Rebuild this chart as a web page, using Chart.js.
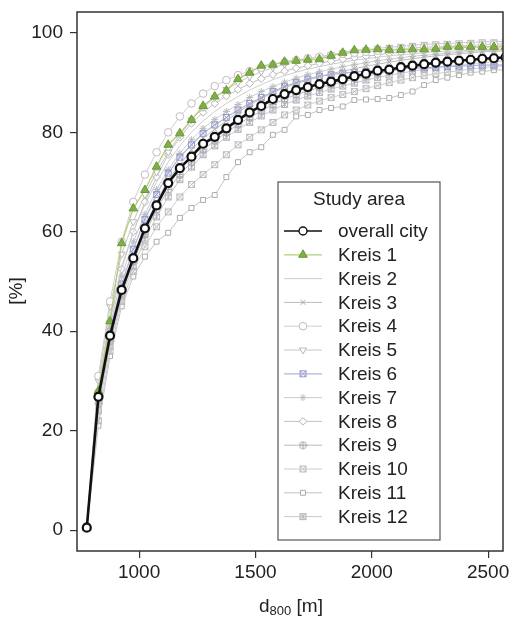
<!DOCTYPE html>
<html>
<head>
<meta charset="utf-8">
<script src="https://cdn.jsdelivr.net/npm/chart.js@4.4.1/dist/chart.umd.min.js"></script>
<style>
  body { margin: 0; background: #fff; }
  #wrap { width: 511px; height: 619px; }
</style>
</head>
<body>
<div id="wrap"><canvas id="chart" width="511" height="619"></canvas></div>
<script>
// d800 distances [m]
const distances = [775, 825, 875, 925, 975, 1025, 1075, 1125, 1175, 1225, 1275, 1325, 1375, 1425, 1475, 1525,
  1575, 1625, 1675, 1725, 1775, 1825, 1875, 1925, 1975, 2025, 2075, 2125, 2175, 2225, 2275, 2325, 2375,
  2425, 2475, 2525, 2575];

const overallCity = [0.5, 26.8, 39.1, 48.3, 54.7, 60.7, 65.3, 69.8, 72.8, 75.1, 77.7, 79.1, 80.8, 82.5, 84.0, 85.3,
  86.7, 87.7, 88.5, 89.1, 89.7, 90.2, 90.7, 91.3, 91.8, 92.4, 92.6, 93.1, 93.4, 93.7, 94.0, 94.2, 94.4,
  94.6, 94.8, 94.9, 95.1];
const kreis1 = [0.5, 28, 42, 57.7, 64.7, 68.4, 73.1, 77.5, 79.8, 82.5, 85.3, 87.2, 88.4, 90.7, 92.0, 93.4,
  93.6, 94.2, 94.4, 94.6, 94.7, 95.4, 96.0, 96.5, 96.6, 96.7, 96.6, 96.6, 96.7, 96.7, 96.8, 97.2, 97.2,
  97.2, 97.2, 97.2, 97.2];
const kreis2 = [0.7, 29, 43, 53, 60, 65.5, 70, 74, 77.3, 80, 82.3, 84.2, 85.8, 87.2, 88.5, 89.6,
  90.6, 91.4, 92.1, 92.7, 93.2, 93.7, 94.1, 94.5, 94.8, 95.1, 95.4, 95.6, 95.8, 96, 96.2, 96.3, 96.4,
  96.5, 96.6, 96.7, 96.8];
const kreis3 = [0.5, 25, 38.5, 48, 55, 61, 66, 70.5, 73.5, 76.5, 78.8, 80.6, 82.3, 84, 85.5, 86.8,
  88, 89, 89.8, 90.5, 91.2, 91.8, 92.3, 92.8, 93.3, 93.7, 94.1, 94.5, 94.8, 95.1, 95.4, 95.6, 95.8,
  96, 96.2, 96.3, 96.4];
const kreis4 = [0.8, 31, 46, 58, 66, 71.5, 76, 80, 83.2, 85.8, 87.8, 89.3, 90.5, 91.5, 92.3, 93,
  93.6, 94.1, 94.5, 94.9, 95.2, 95.5, 95.8, 96, 96.2, 96.4, 96.6, 96.8, 97, 97.1, 97.2, 97.3, 97.4,
  97.5, 97.6, 97.7, 97.8];
const kreis5 = [0.7, 30, 45, 55.5, 62, 67.5, 72, 76, 79.5, 82.5, 85, 87, 88.6, 90, 91.2, 92.2,
  93, 93.7, 94.3, 94.8, 95.2, 95.6, 96, 96.3, 96.6, 96.9, 97.1, 97.3, 97.5, 97.7, 97.8, 97.9, 98,
  98.1, 98.2, 98.2, 98.3];
const kreis6 = [0.6, 27, 40, 49.5, 56.5, 62.5, 67.5, 71.8, 75, 77.5, 79.8, 81.5, 83, 84.5, 85.8, 87,
  88.2, 89.2, 90, 90.7, 91.3, 91.6, 91.9, 92.1, 92.3, 92.5, 92.6, 92.8, 92.9, 93, 93.1, 93.2, 93.3,
  93.4, 93.5, 93.5, 93.6];
const kreis7 = [0.6, 27.5, 41, 51, 58, 63.5, 68.5, 72.5, 75.8, 78.5, 80.8, 82.6, 84.2, 85.6, 87, 88.2,
  89.2, 90.1, 90.9, 91.6, 92.2, 92.7, 93.2, 93.6, 94, 94.4, 94.7, 95, 95.3, 95.5, 95.7, 95.9, 96.1,
  96.3, 96.4, 96.5, 96.6];
const kreis8 = [0.6, 28, 42, 52.5, 60, 66, 71, 75.5, 79, 81.8, 84, 85.8, 87.3, 88.6, 89.8, 90.8,
  91.6, 92.3, 92.9, 93.4, 93.9, 94.3, 94.7, 95, 95.3, 95.6, 95.9, 96.1, 96.3, 96.5, 96.7, 96.9, 97,
  97.1, 97.2, 97.3, 97.4];
const kreis9 = [0.6, 25.5, 38, 47.5, 54, 59.5, 64.5, 68.5, 71.5, 74, 76.5, 78.3, 80, 81.6, 83, 84.3,
  85.6, 86.7, 87.6, 88.3, 89, 89.6, 90.2, 90.8, 91.3, 91.8, 92.3, 92.7, 93.1, 93.5, 93.8, 94.1, 94.4,
  94.6, 94.8, 95, 95.2];
const kreis10 = [0.5, 22, 36, 46, 52, 57, 61, 64, 67, 69.5, 71.5, 73.5, 75.5, 77.5, 79, 80.5,
  82, 83.5, 84.5, 85.5, 86.3, 87, 87.6, 88.2, 88.8, 89.4, 90, 90.5, 91, 91.4, 91.8, 92.1, 92.4,
  92.7, 93, 93.2, 93.4];
const kreis11 = [0.4, 21, 35, 45, 51, 55, 58, 59.8, 62.8, 64.8, 66.4, 67.4, 71, 74, 76, 77,
  79.5, 80.5, 83.2, 83.5, 84.5, 84.9, 85.2, 86.5, 86.6, 86.7, 86.9, 87.5, 88.2, 89.5, 90.5, 91, 91.5,
  92, 92.2, 92.5, 92.6];
const kreis12 = [0.5, 24, 37, 47, 53, 58.5, 63, 67, 70.5, 73, 75.5, 77.3, 79, 80.6, 82, 83.3,
  84.5, 85.6, 86.5, 87.3, 88, 88.7, 89.3, 89.9, 90.5, 91, 91.5, 91.9, 92.3, 92.7, 93, 93.3, 93.6,
  93.8, 94, 94.2, 94.4];

const seriesNames = ['overall city', 'Kreis 1', 'Kreis 2', 'Kreis 3', 'Kreis 4', 'Kreis 5', 'Kreis 6',
  'Kreis 7', 'Kreis 8', 'Kreis 9', 'Kreis 10', 'Kreis 11', 'Kreis 12'];
const seriesValues = [overallCity, kreis1, kreis2, kreis3, kreis4, kreis5, kreis6,
  kreis7, kreis8, kreis9, kreis10, kreis11, kreis12];

const yTicks = [0, 20, 40, 60, 80, 100];
const xTicks = [1000, 1500, 2000, 2500];

const FONT = "'Liberation Sans', Arial, sans-serif";

// small marker canvases for the boxed / crossed symbols
function makeMarker(color, drawFn) {
  const c = document.createElement('canvas');
  c.width = 9; c.height = 9;
  const g = c.getContext('2d');
  g.strokeStyle = color;
  g.lineWidth = 1;
  drawFn(g);
  return c;
}
const boxX = (col) => makeMarker(col, g => {
  g.strokeRect(1.5, 1.5, 6, 6);
  g.beginPath(); g.moveTo(1.5, 1.5); g.lineTo(7.5, 7.5); g.moveTo(7.5, 1.5); g.lineTo(1.5, 7.5); g.stroke();
});
const circlePlus = (col) => makeMarker(col, g => {
  g.beginPath(); g.arc(4.5, 4.5, 3.5, 0, Math.PI * 2); g.stroke();
  g.beginPath(); g.moveTo(4.5, 1); g.lineTo(4.5, 8); g.moveTo(1, 4.5); g.lineTo(8, 4.5); g.stroke();
});
const boxHourglass = (col) => makeMarker(col, g => {
  g.strokeRect(1.5, 1.5, 6, 6);
  g.beginPath(); g.moveTo(1.5, 1.5); g.lineTo(7.5, 1.5); g.lineTo(1.5, 7.5); g.lineTo(7.5, 7.5); g.closePath(); g.stroke();
});
const boxStar = (col) => makeMarker(col, g => {
  g.strokeRect(1.5, 1.5, 6, 6);
  g.beginPath(); g.moveTo(1.5, 1.5); g.lineTo(7.5, 7.5); g.moveTo(7.5, 1.5); g.lineTo(1.5, 7.5);
  g.moveTo(4.5, 1.5); g.lineTo(4.5, 7.5); g.stroke();
});

// styles per series (same order as seriesNames)
const styles = [
  { line: '#111111', width: 2.6, point: 'circle', r: 4, fill: '#ffffff', stroke: '#111111', bw: 2.2 },
  { line: '#b5cf7a', width: 1.3, point: 'triangle', r: 5, fill: '#7eae45', stroke: '#6a9a38', bw: 1 },
  { line: '#cccccc', width: 1, point: false, r: 0, fill: '#fff', stroke: '#cccccc', bw: 1 },
  { line: '#bbbbbb', width: 1, point: 'crossRot', r: 3.5, fill: '#fff', stroke: '#a8a8a8', bw: 1 },
  { line: '#d3cbd0', width: 1, point: 'circle', r: 3.8, fill: '#fff', stroke: '#c6b8c1', bw: 1 },
  { line: '#c8c8c8', width: 1, point: 'triangle', rot: 180, r: 4, fill: '#fff', stroke: '#b8b8b8', bw: 1 },
  { line: '#b2b6da', width: 1.2, point: boxX('#959bcc'), r: 4, fill: '#fff', stroke: '#959bcc', bw: 1 },
  { line: '#cccccc', width: 1, point: 'star', r: 3.5, fill: '#fff', stroke: '#bcbcbc', bw: 1 },
  { line: '#c2c2c2', width: 1, point: 'rectRot', r: 3.8, fill: '#fff', stroke: '#b2b2b2', bw: 1 },
  { line: '#bcbcc2', width: 1, point: circlePlus('#a8a8b0'), r: 4, fill: '#fff', stroke: '#a8a8b0', bw: 1 },
  { line: '#cecece', width: 1, point: boxHourglass('#bcbcbc'), r: 4, fill: '#fff', stroke: '#bcbcbc', bw: 1 },
  { line: '#c4c4c4', width: 1, point: 'rect', r: 3.5, fill: '#fff', stroke: '#acacac', bw: 1 },
  { line: '#c8c8ce', width: 1, point: boxStar('#b6b6be'), r: 4, fill: '#fff', stroke: '#b6b6be', bw: 1 }
];

const datasets = seriesNames.map((name, i) => {
  const s = styles[i];
  return {
    label: name,
    data: distances.map((d, k) => ({ x: d, y: seriesValues[i][k] })),
    borderColor: s.line,
    borderWidth: s.width,
    pointStyle: s.point,
    pointRadius: s.r,
    pointRotation: s.rot || 0,
    pointBackgroundColor: s.fill,
    pointBorderColor: s.stroke,
    pointBorderWidth: s.bw,
    tension: 0
  };
});

const decorPlugin = {
  id: 'decor',
  afterDatasetsDraw(chart) {
    const ctx = chart.ctx;
    const a = chart.chartArea;
    ctx.save();
    // frame
    ctx.strokeStyle = '#333';
    ctx.lineWidth = 1.5;
    ctx.strokeRect(a.left, a.top, a.right - a.left, a.bottom - a.top);

    // legend box
    const bx = 278, by = 182, bw = 162, bh = 358;
    ctx.fillStyle = '#fff';
    ctx.fillRect(bx, by, bw, bh);
    ctx.strokeStyle = '#555';
    ctx.lineWidth = 1.2;
    ctx.strokeRect(bx, by, bw, bh);
    ctx.fillStyle = '#222';
    ctx.font = '19px ' + FONT;
    ctx.textAlign = 'center';
    ctx.textBaseline = 'middle';
    ctx.fillText('Study area', bx + bw / 2, 200);
    ctx.textAlign = 'left';
    chart.data.datasets.forEach((ds, i) => {
      const y = 231 + i * 23.8;
      ctx.strokeStyle = ds.borderColor;
      ctx.lineWidth = Math.min(ds.borderWidth, 1.4);
      ctx.beginPath();
      ctx.moveTo(284, y);
      ctx.lineTo(322, y);
      ctx.stroke();
      if (ds.pointRadius > 0) {
        ctx.fillStyle = ds.pointBackgroundColor;
        ctx.strokeStyle = ds.pointBorderColor;
        ctx.lineWidth = Math.min(ds.pointBorderWidth, 1.4);
        Chart.helpers.drawPoint(ctx, {
          pointStyle: ds.pointStyle, rotation: ds.pointRotation,
          radius: ds.pointRadius, borderWidth: ctx.lineWidth
        }, 303, y);
      }
      ctx.fillStyle = '#222';
      ctx.font = '19px ' + FONT;
      ctx.fillText(ds.label, 338, y + 1);
    });
    ctx.restore();
  },
  afterDraw(chart) {
    const ctx = chart.ctx;
    ctx.save();
    ctx.fillStyle = '#222';
    // y title
    ctx.font = '19px ' + FONT;
    ctx.textAlign = 'center';
    ctx.textBaseline = 'middle';
    ctx.translate(17, 291);
    ctx.rotate(-Math.PI / 2);
    ctx.fillText('[%]', 0, 0);
    ctx.restore();

    // x title with subscript
    ctx.save();
    ctx.fillStyle = '#222';
    ctx.textBaseline = 'alphabetic';
    ctx.textAlign = 'left';
    const big = '19px ' + FONT, small = '13px ' + FONT;
    ctx.font = big;
    const wD = ctx.measureText('d').width;
    const wM = ctx.measureText(' [m]').width;
    ctx.font = small;
    const wS = ctx.measureText('800').width;
    let x = 291 - (wD + wS + wM) / 2;
    const base = 612;
    ctx.font = big; ctx.fillText('d', x, base); x += wD;
    ctx.font = small; ctx.fillText('800', x, base + 3); x += wS;
    ctx.font = big; ctx.fillText(' [m]', x, base);
    ctx.restore();
  }
};

new Chart(document.getElementById('chart'), {
  type: 'line',
  data: { datasets: datasets },
  options: {
    responsive: false,
    animation: false,
    layout: { padding: { left: 0, top: 12, right: 8, bottom: 0 } },
    plugins: { legend: { display: false }, tooltip: { enabled: false } },
    scales: {
      x: {
        type: 'linear',
        min: 733, max: 2564,
        afterFit: (s) => { s.height = 68; s.paddingLeft = 0; s.paddingRight = 0; },
        afterBuildTicks: (s) => { s.ticks = xTicks.map(v => ({ value: v })); },
        grid: { drawOnChartArea: false, drawTicks: true, tickLength: 7, color: '#333', lineWidth: 1.2 },
        border: { display: false },
        ticks: {
          padding: 3, color: '#222', font: { family: FONT, size: 19 }, maxRotation: 0,
          callback: (v) => String(v)
        }
      },
      y: {
        type: 'linear',
        min: -4.2, max: 104.2,
        afterFit: (s) => { s.width = 77; s.paddingTop = 0; s.paddingBottom = 0; },
        afterBuildTicks: (s) => { s.ticks = yTicks.map(v => ({ value: v })); },
        grid: { drawOnChartArea: false, drawTicks: true, tickLength: 7, color: '#333', lineWidth: 1.2 },
        border: { display: false },
        ticks: { padding: 7, color: '#222', font: { family: FONT, size: 19 }, callback: (v) => String(v) }
      }
    }
  },
  plugins: [decorPlugin]
});
</script>
</body>
</html>
